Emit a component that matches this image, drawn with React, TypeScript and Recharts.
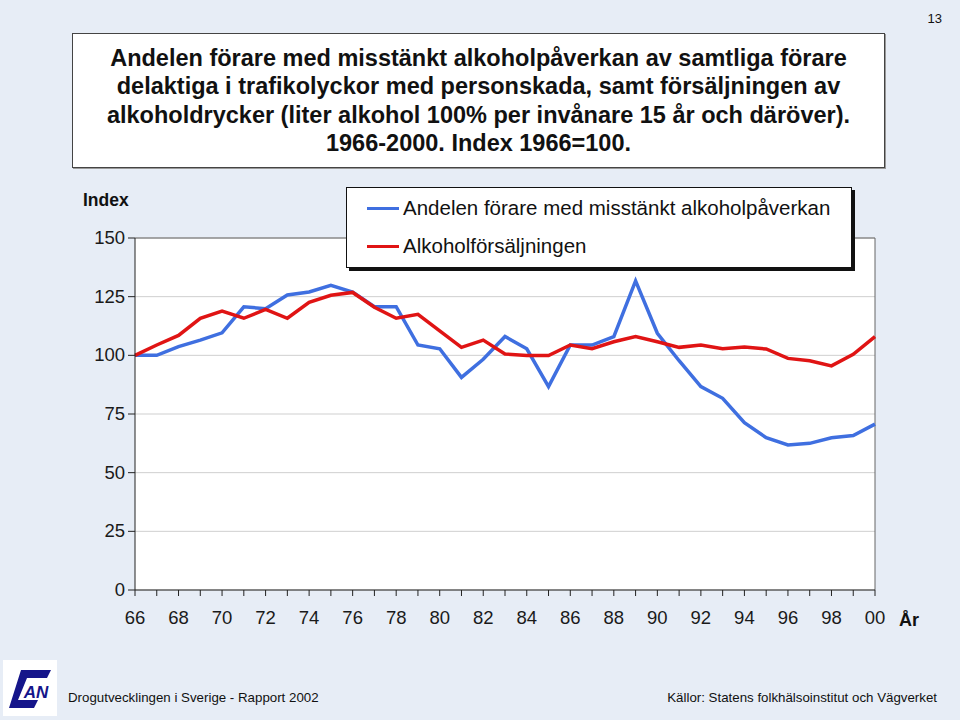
import React from "react";
import {
  LineChart,
  Line,
  XAxis,
  YAxis,
  CartesianGrid,
  ReferenceLine,
  Legend,
} from "recharts";

const years = [
  1966, 1967, 1968, 1969, 1970, 1971, 1972, 1973, 1974, 1975, 1976, 1977,
  1978, 1979, 1980, 1981, 1982, 1983, 1984, 1985, 1986, 1987, 1988, 1989,
  1990, 1991, 1992, 1993, 1994, 1995, 1996, 1997, 1998, 1999, 2000,
];

const drivers = [
  100, 100, 103.7, 106.5, 109.6, 120.7, 119.9, 125.7, 127, 129.8, 127, 120.7,
  120.7, 104.4, 102.8, 90.6, 98.3, 108, 102.8, 86.7, 104.4, 104.4, 108, 131.7,
  109.4, 97.7, 86.7, 81.7, 71.3, 64.9, 61.8, 62.5, 64.9, 65.8, 70.7,
];

const sales = [
  100, 104.4, 108.5, 115.8, 118.9, 115.8, 119.6, 115.8, 122.6, 125.6, 126.8,
  120.5, 115.8, 117.5, 110.4, 103.4, 106.5, 100.6, 99.9, 99.9, 104.4, 102.8,
  105.8, 108, 105.8, 103.4, 104.4, 102.8, 103.5, 102.7, 98.7, 97.7, 95.5,
  100.4, 108,
];

const yTicks = [0, 25, 50, 75, 100, 125, 150];
const xLabelYears = [1966, 1968, 1970, 1972, 1974, 1976, 1978, 1980, 1982, 1984, 1986, 1988, 1990, 1992, 1994, 1996, 1998, 2000];
const xLabels = ["66", "68", "70", "72", "74", "76", "78", "80", "82", "84", "86", "88", "90", "92", "94", "96", "98", "00"];

const seriesNames = [
  "Andelen förare med misstänkt alkoholpåverkan",
  "Alkoholförsäljningen",
];
const seriesColors = ["#3f6fe0", "#e01414"];

const data = years.map((y, i) => ({ year: y, drivers: drivers[i], sales: sales[i] }));

const FONT = "Arial, 'Liberation Sans', Helvetica, sans-serif";
const BG = "#e7edf6";

const XTick = (props: any) => {
  const { x, y, payload } = props;
  const idx = xLabelYears.indexOf(payload.value);
  if (idx < 0) return null;
  return (
    <text x={x} y={y} dy={26} textAnchor="middle" fontSize={18.5} fontFamily={FONT} fill="#1a1a1a">
      {xLabels[idx]}
    </text>
  );
};

const YTick = (props: any) => {
  const { x, y, payload } = props;
  return (
    <text x={x - 1} y={y} dy={6} textAnchor="end" fontSize={18.5} fontFamily={FONT} fill="#1a1a1a">
      {payload.value}
    </text>
  );
};

const LegendBox = () => (
  <div
    style={{
      background: "#fff",
      border: "1.5px solid #111",
      boxShadow: "3px 3px 0 #111",
      width: 506,
      height: 81,
      boxSizing: "border-box",
      fontFamily: FONT,
      fontSize: 20.5,
      color: "#111",
      paddingLeft: 20,
      paddingTop: 1,
    }}
  >
    {seriesNames.map((n, i) => (
      <div key={n} style={{ display: "flex", alignItems: "center", height: 38 }}>
        <div style={{ width: 32, height: 3, background: seriesColors[i], marginRight: 4 }} />
        <span>{n}</span>
      </div>
    ))}
  </div>
);

const Logo = () => (
  <svg width={54} height={56} style={{ position: "absolute", left: 3, top: 660 }}>
    <rect x={0} y={0} width={54} height={56} fill="#fff" />
    <path d="M18 10 L48 10 L44 18 L24 18 L15 40 L35 40 L31 48 L6 48 Z" fill="#15158a" />
    <text x={33} y={38} textAnchor="middle" fontSize={17} fontWeight="bold" fontStyle="italic" fontFamily={FONT} fill="#15158a">
      AN
    </text>
  </svg>
);

export default function App() {
  return (
    <div
      style={{
        position: "absolute",
        left: 0,
        top: 0,
        width: 960,
        height: 720,
        background: BG,
        fontFamily: FONT,
        overflow: "hidden",
      }}
    >
      <div style={{ position: "absolute", right: 18, top: 11, fontSize: 13, color: "#111" }}>13</div>

      <div
        style={{
          position: "absolute",
          left: 72,
          top: 33,
          width: 813,
          height: 135,
          boxSizing: "border-box",
          background: "#fff",
          border: "1.5px solid #444",
          boxShadow: "1px 1px 0 #999",
          textAlign: "center",
          fontWeight: "bold",
          fontSize: 23.5,
          lineHeight: "28.3px",
          color: "#111",
          paddingTop: 10,
          whiteSpace: "nowrap",
        }}
      >
        Andelen förare med misstänkt alkoholpåverkan av samtliga förare
        <br />
        delaktiga i trafikolyckor med personskada, samt försäljningen av
        <br />
        alkoholdrycker (liter alkohol 100% per invånare 15 år och däröver).
        <br />
        1966-2000. Index 1966=100.
      </div>

      <div style={{ position: "absolute", left: 83, top: 190, fontSize: 17.5, fontWeight: "bold", color: "#111" }}>
        Index
      </div>
      <div style={{ position: "absolute", left: 899, top: 610, fontSize: 18, fontWeight: "bold", color: "#111" }}>
        År
      </div>

      <div style={{ position: "absolute", left: 0, top: 0 }}>
        <LineChart
          width={960}
          height={720}
          data={data}
          margin={{ top: 238, right: 85, bottom: 100, left: 75 }}
        >
          <CartesianGrid horizontal vertical={false} stroke="#cfcfcf" fill="#fff" />
          <XAxis
            dataKey="year"
            type="number"
            domain={[1966, 2000]}
            ticks={years}
            interval={0}
            tick={<XTick />}
            tickSize={6}
            height={30}
            stroke="#222"
            tickLine={{ stroke: "#222" }}
            axisLine={{ stroke: "#222" }}
          />
          <YAxis
            type="number"
            domain={[0, 150]}
            ticks={yTicks}
            interval={0}
            tick={<YTick />}
            tickSize={7}
            width={60}
            stroke="#222"
            tickLine={{ stroke: "#222" }}
            axisLine={{ stroke: "#222" }}
          />
          <ReferenceLine y={150} stroke="#666" strokeWidth={1} />
          <ReferenceLine x={2000} stroke="#666" strokeWidth={1} />
          <Line
            type="linear"
            dataKey="drivers"
            name={seriesNames[0]}
            stroke={seriesColors[0]}
            strokeWidth={3.5}
            dot={false}
            isAnimationActive={false}
          />
          <Line
            type="linear"
            dataKey="sales"
            name={seriesNames[1]}
            stroke={seriesColors[1]}
            strokeWidth={3.5}
            dot={false}
            isAnimationActive={false}
          />
          <Legend
            content={<LegendBox />}
            layout="vertical"
            verticalAlign="middle"
            align="center"
            wrapperStyle={{ position: "absolute", left: 346, top: 187, width: 506 }}
          />
        </LineChart>
      </div>

      <Logo />
      <div style={{ position: "absolute", left: 68, top: 690, fontSize: 13.3, color: "#111" }}>
        Drogutvecklingen i Sverige - Rapport 2002
      </div>
      <div style={{ position: "absolute", right: 23, top: 690, fontSize: 13.3, color: "#111" }}>
        Källor: Statens folkhälsoinstitut och Vägverket
      </div>
    </div>
  );
}
